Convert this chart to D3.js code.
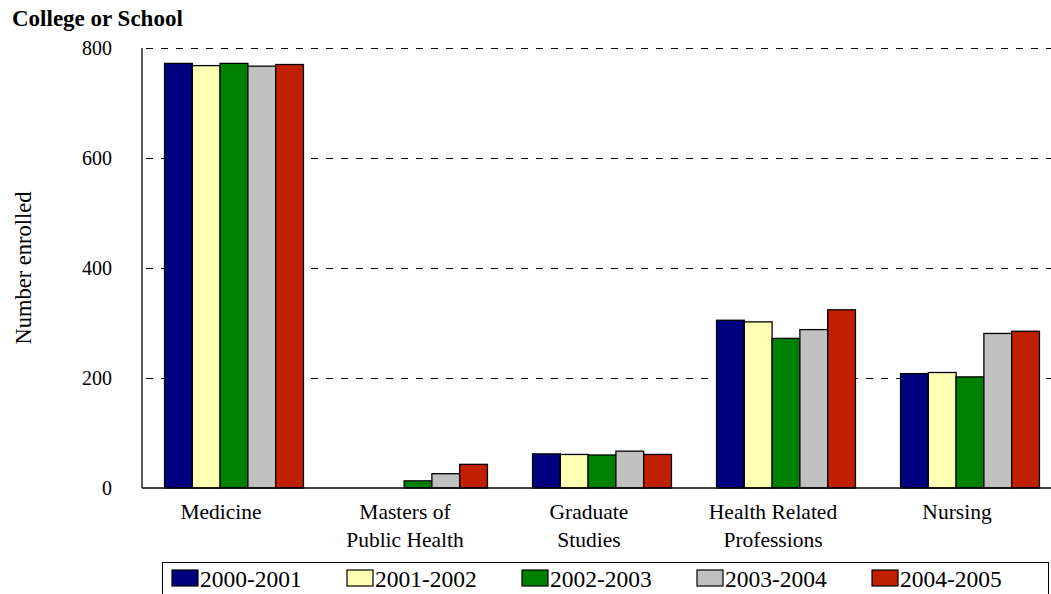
<!DOCTYPE html>
<html><head><meta charset="utf-8">
<script src="https://cdn.jsdelivr.net/npm/d3@7"></script>
<style>body{margin:0;background:#fff}svg{display:block}text{font-family:"Liberation Serif","Times New Roman",serif}</style>
</head><body><svg id="c" width="1051" height="594"></svg>
<script>
const categories = [["Medicine"],["Masters of","Public Health"],["Graduate","Studies"],["Health Related","Professions"],["Nursing"]];
const seriesNames = ["2000-2001","2001-2002","2002-2003","2003-2004","2004-2005"];
const colors = ["#000080","#FFFFB3","#008000","#C0C0C0","#C02000"];
const s2000 = [772, 0, 62, 305, 208];
const s2001 = [768, 0, 61, 302, 210];
const s2002 = [772, 13, 60, 272, 202];
const s2003 = [767, 26, 67, 288, 281];
const s2004 = [770, 43, 61, 324, 285];
const series = [s2000, s2001, s2002, s2003, s2004];
const yTicks = [0, 200, 400, 600, 800];

const svg = d3.select("#c");
const L = 142, R = 1062, T = 48, B = 488;
const x0 = d3.scaleBand().domain(d3.range(categories.length)).range([L, R]).paddingInner(0.245).paddingOuter(0.1225);
const x1 = d3.scaleBand().domain(d3.range(seriesNames.length)).range([0, x0.bandwidth()]);
const y = d3.scaleLinear().domain([0, 800]).range([B, T]);

// gridlines
svg.append("g").selectAll("line").data(yTicks.filter(d => d > 0)).join("line")
  .attr("x1", L).attr("x2", R).attr("y1", d => y(d) + 0.5).attr("y2", d => y(d) + 0.5)
  .attr("stroke", "#000").attr("stroke-width", 1).attr("stroke-dasharray", "7,8").attr("stroke-dashoffset", -4);

// bars
const g = svg.append("g");
categories.forEach((c, i) => {
  series.forEach((s, j) => {
    if (s[i] <= 0) return;
    g.append("rect")
      .attr("x", x0(i) + x1(j)).attr("width", x1.bandwidth())
      .attr("y", y(s[i])).attr("height", B - y(s[i]))
      .attr("fill", colors[j]).attr("stroke", "#000").attr("stroke-width", 1.3);
  });
});

// axes lines
svg.append("line").attr("x1", L).attr("x2", L).attr("y1", T).attr("y2", B).attr("stroke", "#000").attr("stroke-width", 1.3);
svg.append("line").attr("x1", L).attr("x2", R).attr("y1", B).attr("y2", B).attr("stroke", "#000").attr("stroke-width", 1.3);

// y tick labels
svg.append("g").selectAll("text").data(yTicks).join("text")
  .attr("x", 112).attr("y", d => y(d)).attr("dy", "0.35em").attr("text-anchor", "end")
  .attr("font-size", 20).text(d => d);

// category labels (drawn slightly left of the group centre, as in the original)
categories.forEach((c, i) => {
  const cx = x0(i) + x0.bandwidth() / 2 - 13;
  c.forEach((line, k) => {
    svg.append("text").attr("x", cx).attr("y", 519 + k * 28).attr("text-anchor", "middle")
      .attr("font-size", 21.5).text(line);
  });
});

// titles
svg.append("text").attr("x", 12).attr("y", 26).attr("font-size", 23).attr("font-weight", "bold").text("College or School");
svg.append("text").attr("transform", "translate(31,268) rotate(-90)").attr("text-anchor", "middle")
  .attr("font-size", 22.5).text("Number enrolled");

// legend
const lg = svg.append("g");
lg.append("rect").attr("x", 162.5).attr("y", 562.5).attr("width", 886).attr("height", 40)
  .attr("fill", "#fff").attr("stroke", "#000").attr("stroke-width", 1);
seriesNames.forEach((n, j) => {
  const lx = 172 + j * 175;
  lg.append("rect").attr("x", lx).attr("y", 570).attr("width", 26).attr("height", 16)
    .attr("fill", colors[j]).attr("stroke", "#000").attr("stroke-width", 1.2);
  lg.append("text").attr("x", lx + 28).attr("y", 587).attr("font-size", 23.5).text(n);
});
</script></body></html>
